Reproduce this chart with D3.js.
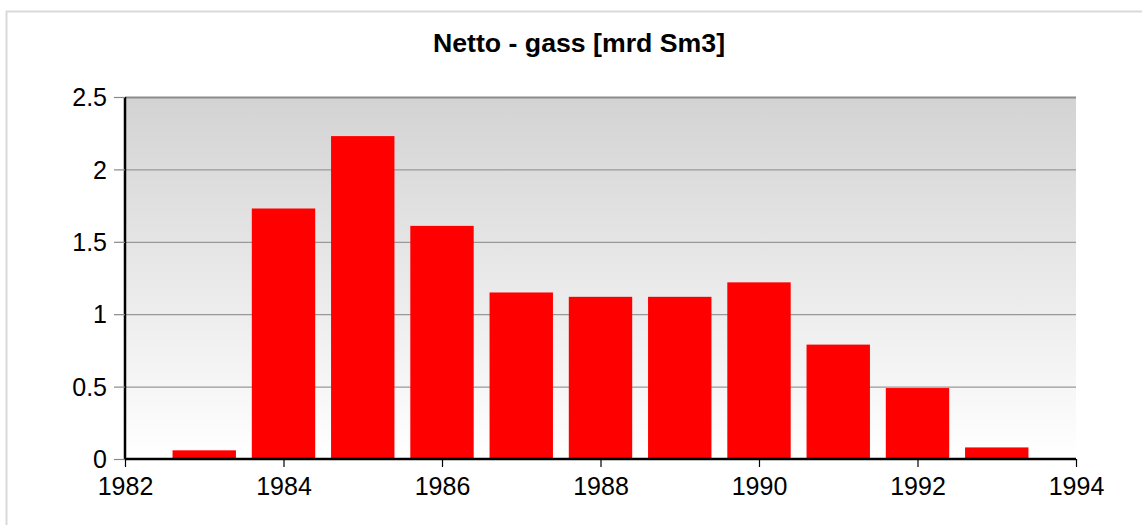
<!DOCTYPE html>
<html><head><meta charset="utf-8">
<script src="https://cdn.jsdelivr.net/npm/d3@7"></script>
<style>body{margin:0;background:#fff}svg{display:block}</style>
</head><body>
<script>
const years = [1983,1984,1985,1986,1987,1988,1989,1990,1991,1992,1993];
const values = [0.06,1.73,2.23,1.61,1.15,1.12,1.12,1.22,0.79,0.49,0.08];
const xTicks = [1982,1984,1986,1988,1990,1992,1994];
const yTicks = [0,0.5,1,1.5,2,2.5];
const title = "Netto - gass [mrd Sm3]";

const W=1142,H=525;
const svg=d3.select("body").append("svg").attr("width",W).attr("height",H);
const L=125,R=1076,T=97,B=459;
const x=d3.scaleLinear().domain([1982,1994]).range([L,R]);
const y=d3.scaleLinear().domain([0,2.5]).range([B,T]);

svg.append("rect").attr("x",6.5).attr("y",11.5).attr("width",W).attr("height",H)
  .attr("fill","none").attr("stroke","#d9d9d9").attr("stroke-width",2);

const defs=svg.append("defs");
const g=defs.append("linearGradient").attr("id","bg").attr("x1",0).attr("y1",0).attr("x2",0).attr("y2",1);
g.append("stop").attr("offset","0%").attr("stop-color","#d3d3d3");
g.append("stop").attr("offset","100%").attr("stop-color","#ffffff");
svg.append("rect").attr("x",L).attr("y",T).attr("width",R-L).attr("height",B-T).attr("fill","url(#bg)");

// grid
svg.append("g").selectAll("line").data(yTicks.filter(d=>d>0)).join("line")
  .attr("x1",L).attr("x2",R).attr("y1",d=>y(d)+0.5).attr("y2",d=>y(d)+0.5)
  .attr("stroke",d=>d===2.5?"#8c8c8c":"#999").attr("stroke-width",d=>d===2.5?2:1.2);

// bars
const bw=(x(1)-x(0))*0.8;
svg.append("g").selectAll("rect").data(years).join("rect")
  .attr("x",(d)=>x(d)-bw/2).attr("width",bw)
  .attr("y",(d,i)=>y(values[i])).attr("height",(d,i)=>B-y(values[i]))
  .attr("fill","#ff0000");

// y axis
const ya=svg.append("g").attr("transform",`translate(${L},0)`)
  .call(d3.axisLeft(y).tickValues(yTicks).tickFormat(d3.format("")).tickSize(11).tickPadding(7));
ya.select(".domain").attr("stroke","#000").attr("stroke-width",2.5).attr("d",`M0,${T}V${B}`);
ya.selectAll(".tick line").attr("stroke","#888").attr("stroke-width",1.2);
ya.selectAll("text").attr("font-family","Liberation Sans, Arial, sans-serif").attr("font-size",25).attr("fill","#000").attr("dy","0.35em");

// x axis
const xa=svg.append("g").attr("transform",`translate(0,${B})`)
  .call(d3.axisBottom(x).tickValues(xTicks).tickFormat(d3.format("d")).tickSize(8).tickPadding(10));
xa.select(".domain").attr("stroke","#000").attr("stroke-width",2.5).attr("d",`M${L},0H${R}`);
xa.selectAll(".tick line").attr("stroke","#000").attr("stroke-width",1.2);
xa.selectAll("text").attr("font-family","Liberation Sans, Arial, sans-serif").attr("font-size",25).attr("fill","#000");

svg.append("text").attr("x",579).attr("y",52).attr("text-anchor","middle")
  .attr("font-family","Liberation Sans, Arial, sans-serif").attr("font-weight","bold").attr("font-size",26.7)
  .text(title);
</script>
</body></html>
